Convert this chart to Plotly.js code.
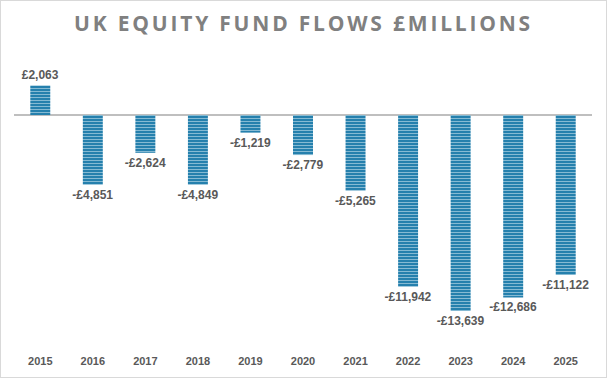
<!DOCTYPE html>
<html>
<head>
<meta charset="utf-8">
<script src="https://cdn.plot.ly/plotly-3.0.1.min.js"></script>
<style>
html,body{margin:0;padding:0;background:#fff;}
#wrap{width:607px;height:378px;box-sizing:border-box;border:1px solid #d9d9d9;overflow:hidden;}
#chart{width:605px;height:376px;}
.gtitle{letter-spacing:2.8px;}
</style>
</head>
<body>
<div id="wrap"><div id="chart"></div></div>
<script>
const years = ['2015','2016','2017','2018','2019','2020','2021','2022','2023','2024','2025'];
const flows = [2063, -4851, -2624, -4849, -1219, -2779, -5265, -11942, -13639, -12686, -11122];

function fmt(v){
  const s = Math.abs(v).toLocaleString('en-GB');
  return (v < 0 ? '-£' : '£') + s;
}

const trace = {
  type: 'bar',
  x: years,
  y: flows,
  text: flows.map(fmt),
  textposition: 'outside',
  texttemplate: '%{text}',
  constraintext: 'none',
  cliponaxis: false,
  textfont: {family: 'Liberation Sans, Arial, sans-serif', size: 12, color: '#595959', weight: 'bold'},
  marker: {
    color: '#2580ad',
    line: {width: 0},
    pattern: {shape: '-', fgcolor: '#e6f3f9', size: 3, solidity: 0.35, fillmode: 'overlay'}
  },
  hoverinfo: 'skip'
};

const layout = {
  width: 605,
  height: 376,
  margin: {l: 13, r: 14, t: 71, b: 32},
  paper_bgcolor: '#ffffff',
  plot_bgcolor: '#ffffff',
  showlegend: false,
  bargap: 0.62,
  title: {
    text: 'UK EQUITY FUND FLOWS £MILLIONS',
    x: 0.5, xanchor: 'center',
    y: 0.94, yanchor: 'middle',
    font: {family: 'Open Sans, Liberation Sans, sans-serif', size: 21, color: '#808080', weight: 'bold'}
  },
  xaxis: {
    type: 'category',
    range: [-0.5, 10.5],
    showgrid: false,
    showline: false,
    zeroline: false,
    ticks: '',
    ticklabelstandoff: 8,
    tickfont: {family: 'Liberation Sans, Arial, sans-serif', size: 11, color: '#595959', weight: 'bold'},
    fixedrange: true
  },
  yaxis: {
    range: [-16000, 3000],
    showgrid: false,
    showticklabels: false,
    showline: false,
    zeroline: true,
    zerolinecolor: '#bfbfbf',
    zerolinewidth: 2,
    ticks: '',
    fixedrange: true
  }
};

Plotly.newPlot('chart', [trace], layout, {displayModeBar: false, staticPlot: true});
</script>
</body>
</html>
